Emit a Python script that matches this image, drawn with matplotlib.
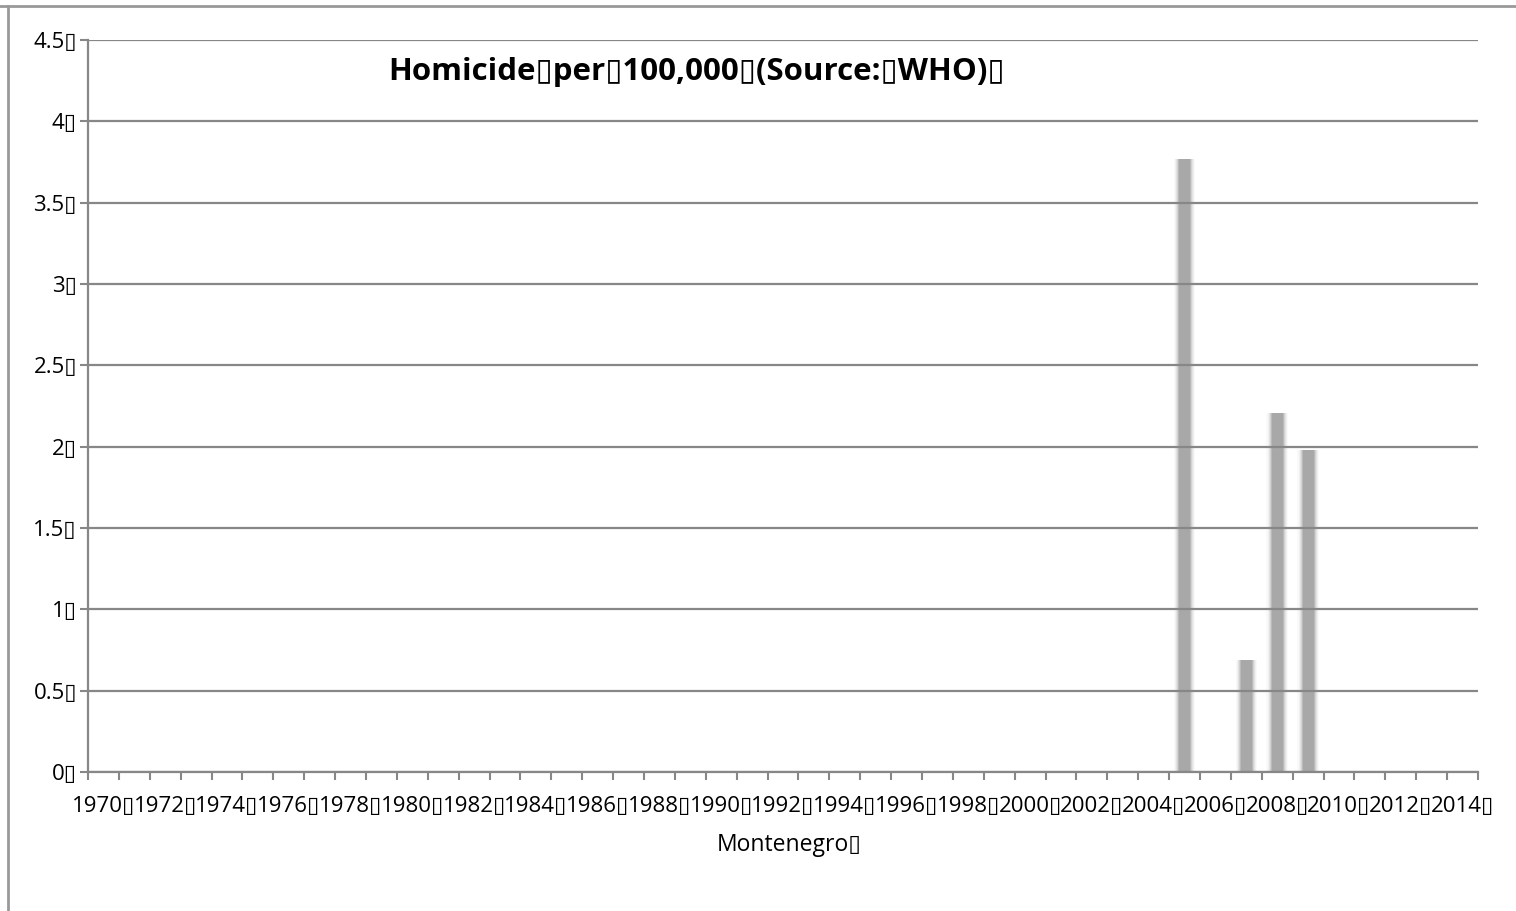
import numpy as np
import matplotlib.pyplot as plt
from matplotlib.lines import Line2D

plt.rcParams['font.family'] = ['Open Sans', 'DejaVu Sans']

# data
years = list(range(1970, 2015))
data_years = [2005, 2007, 2008, 2009]
rates = [3.77, 0.69, 2.21, 1.98]
y_ticks = [0, 0.5, 1, 1.5, 2, 2.5, 3, 3.5, 4, 4.5]
y_labels = ['0', '0.5', '1', '1.5', '2', '2.5', '3', '3.5', '4', '4.5']
BOX = '\u25AF'

title = 'Homicide' + BOX + 'per' + BOX + '100,000' + BOX + '(Source:' + BOX + 'WHO)' + BOX
xlabel = 'Montenegro' + BOX

fig = plt.figure(figsize=(15.16, 9.11), dpi=100)
ax = fig.add_axes([88/1516, 1-772/911, (1478-88)/1516, (772-40)/911])

grid_c = '#878787'
bar_c = '#a8a8a8'

idx = [years.index(y) for y in data_years]
# soft blurry bars: layered from wide/faint to narrow/solid
layers = [(0.7, 0.06), (0.62, 0.1), (0.55, 0.18), (0.48, 0.3), (0.42, 0.55), (0.36, 1.0)]
for w, a in layers:
    ax.bar(idx, rates, width=w, color=bar_c, alpha=a, linewidth=0, zorder=1)

ax.set_xlim(-0.5, len(years) - 0.5)
ax.set_ylim(0, 4.5)

ax.set_yticks(y_ticks)
ax.set_yticklabels([s + BOX for s in y_labels])
ax.yaxis.grid(True, color=grid_c, linewidth=1.6, zorder=2)
ax.set_axisbelow(False)

# category boundary ticks + centered labels every 2 years
ax.set_xticks(np.arange(-0.5, len(years)))
ax.set_xticklabels([])
lab_idx = [i for i, y in enumerate(years) if y % 2 == 0]
ax.set_xticks(lab_idx, minor=True)
ax.set_xticklabels([str(years[i]) + BOX for i in lab_idx], minor=True)

ax.tick_params(axis='x', which='major', length=6, width=1.5, color=grid_c)
ax.tick_params(axis='x', which='minor', length=0, pad=17, labelsize=16)
ax.tick_params(axis='y', length=6, width=1.5, color=grid_c, pad=2, labelsize=16)

for s in ['top', 'right']:
    ax.spines[s].set_visible(False)
for s in ['left', 'bottom']:
    ax.spines[s].set_color(grid_c)
    ax.spines[s].set_linewidth(1.6)

fig.text(697/1516, 1-72/911, title, ha='center', va='center',
         fontsize=22.5, fontweight='bold')
fig.text(789/1516, 1-845/911, xlabel, ha='center', va='center', fontsize=16.5)

# outer frame (top and left only visible)
fig.add_artist(Line2D([0, 1], [1-6/911, 1-6/911], color='#999999', lw=2))
fig.add_artist(Line2D([8/1516, 8/1516], [0, 1-6/911], color='#999999', lw=2))

fig.savefig('out.png', dpi=100)
